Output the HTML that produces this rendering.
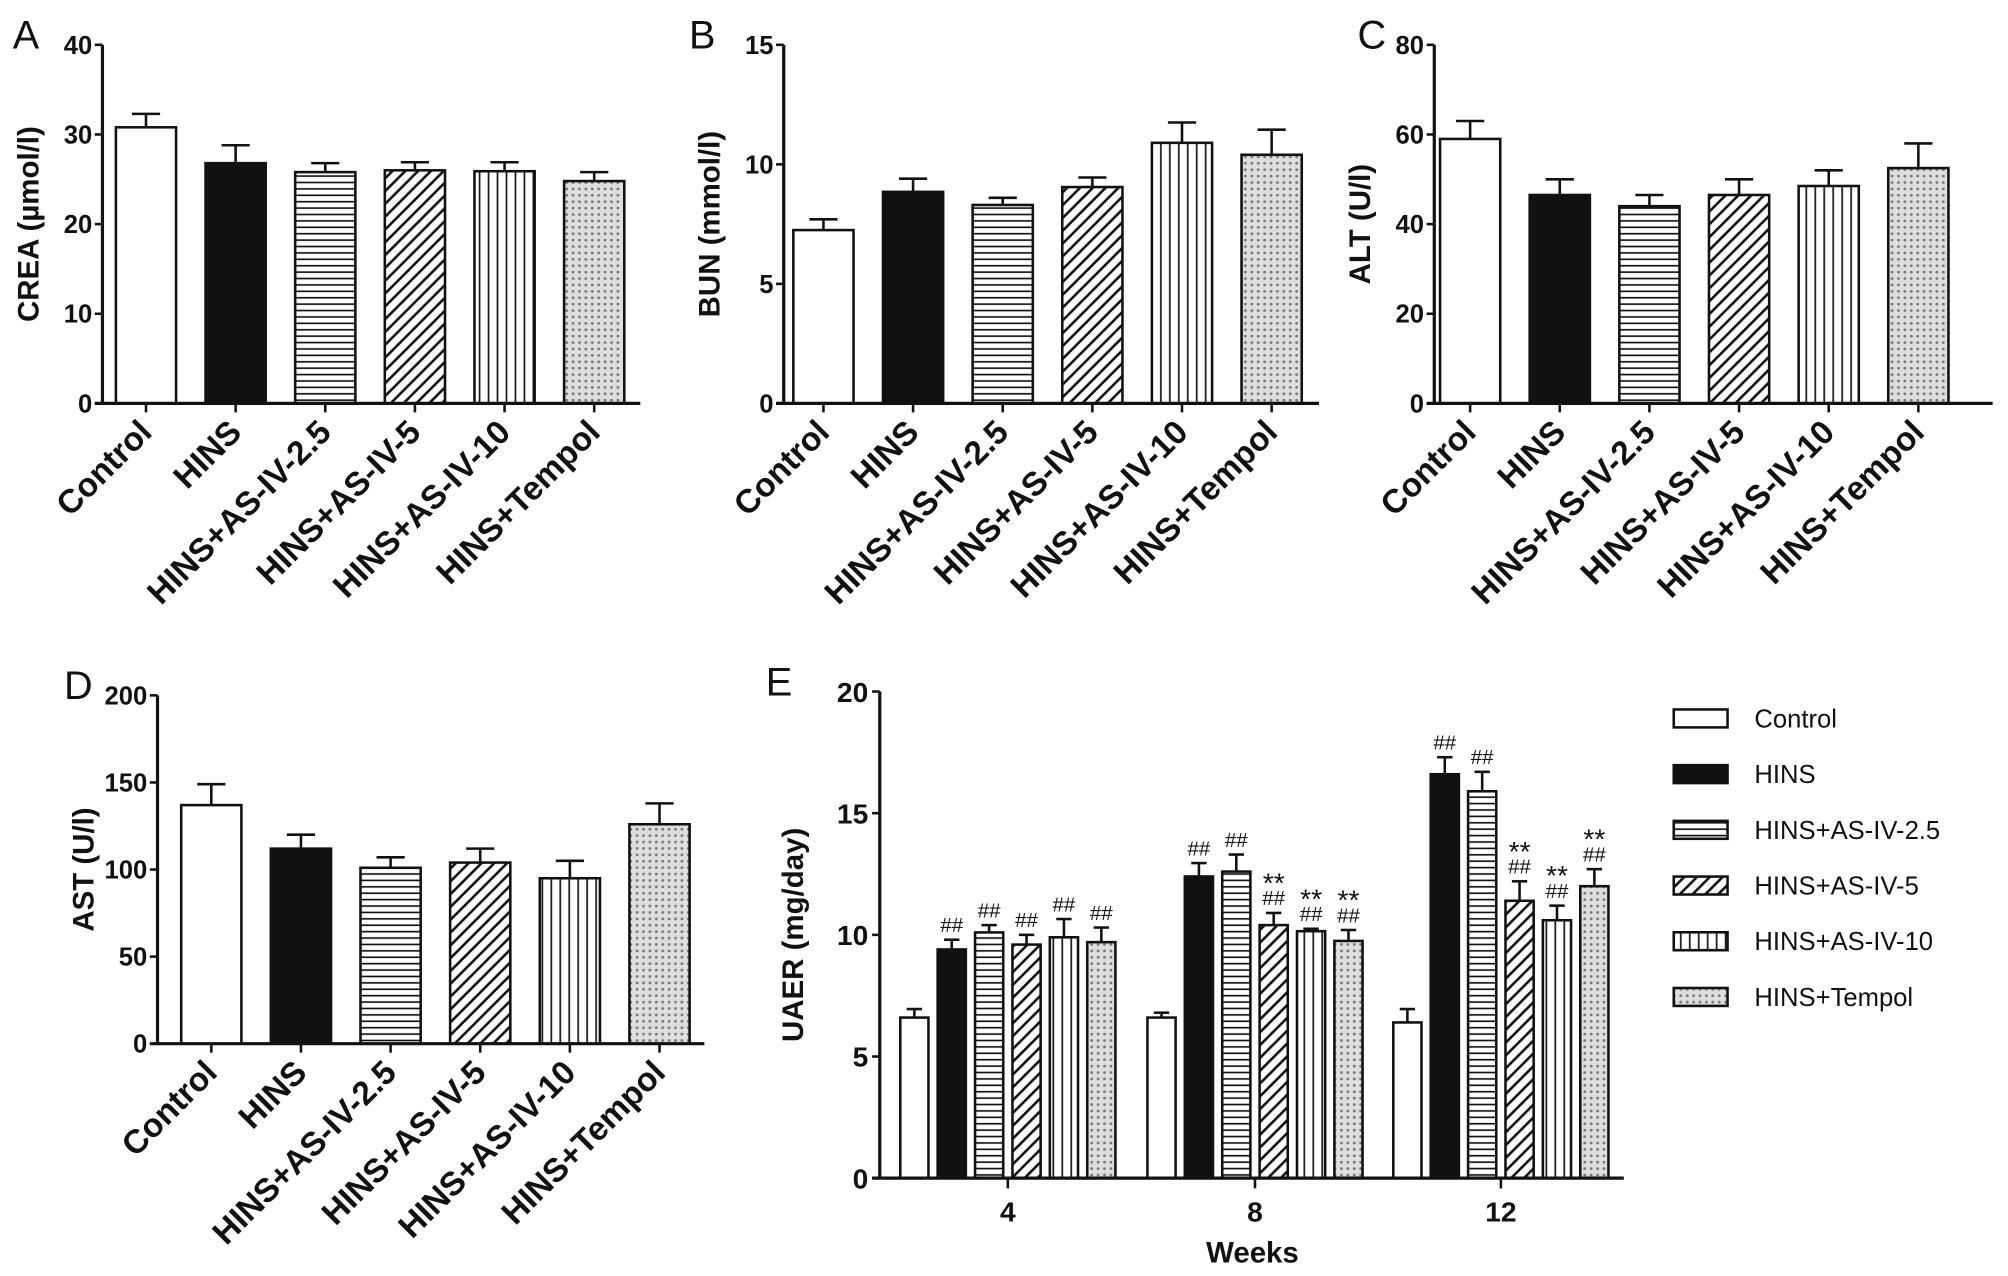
<!DOCTYPE html>
<html><head><meta charset="utf-8"><style>
html,body{margin:0;padding:0;background:#fff}
svg{display:block}
text{font-family:"Liberation Sans",Arial,sans-serif;fill:#111}
</style></head><body>
<svg id="fig" width="2008" height="1276" viewBox="0 0 1568 996.4" preserveAspectRatio="none" xmlns="http://www.w3.org/2000/svg">
<defs>
<pattern id="p-h" patternUnits="userSpaceOnUse" width="8" height="5"><rect width="8" height="5" fill="#fff"/><line x1="0" y1="2.5" x2="8" y2="2.5" stroke="#111" stroke-width="1.3"/></pattern>
<pattern id="p-d" patternUnits="userSpaceOnUse" width="10" height="10"><rect width="10" height="10" fill="#fff"/><path d="M-2,12 L12,-2 M-2,2 L2,-2 M8,12 L12,8" stroke="#111" stroke-width="2"/></pattern>
<pattern id="p-v" patternUnits="userSpaceOnUse" width="7" height="8"><rect width="7" height="8" fill="#fff"/><line x1="3.5" y1="0" x2="3.5" y2="8" stroke="#111" stroke-width="1.3"/></pattern>
<pattern id="p-t" patternUnits="userSpaceOnUse" width="5" height="5"><rect width="5" height="5" fill="#dedede"/><circle cx="2.5" cy="2.5" r="1.1" fill="#777"/></pattern>
</defs>
</svg>
<script>
const groups = ["Control","HINS","HINS+AS-IV-2.5","HINS+AS-IV-5","HINS+AS-IV-10","HINS+Tempol"];
const fills = ["#fff","#111","url(#p-h)","url(#p-d)","url(#p-v)","url(#p-t)"];
const creaVals = [30.8,26.8,25.8,26.0,25.9,24.8];
const creaErr = [1.5,2.0,1.0,0.9,1.0,1.0];
const creaTicks = [0,10,20,30,40];
const bunVals = [7.25,8.85,8.3,9.05,10.9,10.4];
const bunErr = [0.45,0.55,0.3,0.4,0.85,1.05];
const bunTicks = [0,5,10,15];
const altVals = [59,46.5,44,46.5,48.5,52.5];
const altErr = [4,3.5,2.5,3.5,3.5,5.5];
const altTicks = [0,20,40,60,80];
const astVals = [137,112,101,104,95,126];
const astErr = [12,8,6,8,10,12];
const astTicks = [0,50,100,150,200];
const weeks = ["4","8","12"];
const uaerVals = [[6.6,9.4,10.1,9.6,9.9,9.7],[6.6,12.4,12.6,10.4,10.15,9.75],[6.4,16.6,15.9,11.4,10.6,12.0]];
const uaerErr = [[0.35,0.4,0.3,0.4,0.75,0.6],[0.2,0.55,0.7,0.5,0.1,0.45],[0.55,0.7,0.8,0.8,0.6,0.7]];
const uaerHash = [[0,1,1,1,1,1],[0,1,1,1,1,1],[0,1,1,1,1,1]];
const uaerStar = [[0,0,0,0,0,0],[0,0,0,1,1,1],[0,0,0,1,1,1]];
const uaerTicks = [0,5,10,15,20];

const svg = document.getElementById('fig');
const NS = 'http://www.w3.org/2000/svg';
function mk(tag, attrs, parent, txt){const e=document.createElementNS(NS,tag);for(const k in attrs)e.setAttribute(k,attrs[k]);if(txt!==undefined)e.textContent=txt;(parent||svg).appendChild(e);return e;}

function panel(cfg){
  const g = mk('g',{});
  
  
  const max = cfg.ticks[cfg.ticks.length-1];
  const y = v => cfg.y0 - (v/max)*(cfg.y0-cfg.yTop);
  const lt = mk('text',{x:cfg.lx,y:cfg.yTop+3,'font-size':31},g,cfg.letter);
  
  
  cfg.ticks.forEach(t=>{
    mk('line',{x1:cfg.ax-6,x2:cfg.ax,y1:y(t),y2:y(t),stroke:'#111','stroke-width':2},g);
    const tl = mk('text',{x:cfg.ax-8,y:y(t)+7,'font-size':20,'font-weight':'bold','text-anchor':'end'},g,t);
    
    
  });
  const tcx = cfg.ax-50, tcy=(cfg.y0+cfg.yTop)/2;
  const yt = mk('text',{x:tcx,y:tcy,'font-size':23,'font-weight':'bold','text-anchor':'middle',transform:`rotate(-90 ${tcx} ${tcy})`},g,cfg.title);
  
  
  cfg.vals.forEach((v,i)=>{
    const cx = cfg.c0 + i*cfg.step, w=47;
    const top=y(v+cfg.err[i]);
    mk('line',{x1:cx,x2:cx,y1:y(v),y2:top,stroke:'#111','stroke-width':2},g);
    mk('line',{x1:cx-11,x2:cx+11,y1:top,y2:top,stroke:'#111','stroke-width':2},g);
    const b = mk('rect',{x:cx-w/2,y:y(v),width:w,height:cfg.y0-y(v),fill:fills[i],stroke:'#111','stroke-width':2},g);
    
    
    mk('line',{x1:cx,x2:cx,y1:cfg.y0,y2:cfg.y0+7,stroke:'#111','stroke-width':2},g);
    const lx=cx+6, ly=cfg.y0+24;
    const xl = mk('text',{x:lx,y:ly,'font-size':26,'font-weight':'bold','text-anchor':'end',transform:`rotate(-45 ${lx} ${ly})`},g,groups[i]);
    
    
  });
  mk('line',{x1:cfg.ax,x2:cfg.ax,y1:cfg.yTop,y2:cfg.y0,stroke:'#111','stroke-width':2.5},g);
  mk('line',{x1:cfg.ax-6,x2:cfg.xEnd,y1:cfg.y0,y2:cfg.y0,stroke:'#111','stroke-width':2.5},g);
}
panel({letter:'A',lx:10,ax:80,yTop:35,y0:315,xEnd:500,c0:114,step:70,ticks:creaTicks,vals:creaVals,err:creaErr,title:'CREA (µmol/l)'});
panel({letter:'B',lx:538,ax:612,yTop:35,y0:315,xEnd:1030,c0:643,step:70,ticks:bunTicks,vals:bunVals,err:bunErr,title:'BUN (mmol/l)'});
panel({letter:'C',lx:1060,ax:1120,yTop:35,y0:315,xEnd:1556,c0:1148,step:70,ticks:altTicks,vals:altVals,err:altErr,title:'ALT (U/l)'});
panel({letter:'D',lx:50,ax:123,yTop:543,y0:815,xEnd:550,c0:165,step:70,ticks:astTicks,vals:astVals,err:astErr,title:'AST (U/l)'});

// Panel E
(function(){
  const g = mk('g',{});
  
  
  const ax=687, yTop=540, y0=920, xEnd=1268, max=20;
  const y = v => y0 - v/max*(y0-yTop);
  const gc = [787,980,1172], step=29.2, w=22;
  const lt = mk('text',{x:598,y:543,'font-size':31},g,'E');
  
  
  uaerTicks.forEach(t=>{
    mk('line',{x1:ax-6,x2:ax,y1:y(t),y2:y(t),stroke:'#111','stroke-width':2},g);
    const tl = mk('text',{x:ax-9,y:y(t)+8,'font-size':22,'font-weight':'bold','text-anchor':'end'},g,t);
    
    
  });
  const yt = mk('text',{x:627,y:730,'font-size':23,'font-weight':'bold','text-anchor':'middle',transform:'rotate(-90 627 730)'},g,'UAER (mg/day)');
  
  
  weeks.forEach((wk,gi)=>{
    uaerVals[gi].forEach((v,i)=>{
      const cx = gc[gi] + (i-2.5)*step;
      const top=y(v+uaerErr[gi][i]);
      mk('line',{x1:cx,x2:cx,y1:y(v),y2:top,stroke:'#111','stroke-width':2},g);
      mk('line',{x1:cx-6,x2:cx+6,y1:top,y2:top,stroke:'#111','stroke-width':2},g);
      const b = mk('rect',{x:cx-w/2,y:y(v),width:w,height:y0-y(v),fill:fills[i],stroke:'#111','stroke-width':2},g);
      
      
      let ty = top-6;
      if(uaerHash[gi][i]){
        const h = mk('text',{x:cx,y:ty,'font-size':16,'text-anchor':'middle'},g,'##');
        
        
        ty -= 17;
      }
      if(uaerStar[gi][i]){
        const s = mk('text',{x:cx,y:ty+7,'font-size':22,'text-anchor':'middle'},g,'**');
        
        
      }
    });
    mk('line',{x1:gc[gi],x2:gc[gi],y1:y0,y2:y0+8,stroke:'#111','stroke-width':2},g);
    const xl = mk('text',{x:gc[gi],y:y0+34,'font-size':22,'font-weight':'bold','text-anchor':'middle'},g,wk);
    
    
  });
  mk('line',{x1:ax,x2:ax,y1:yTop,y2:y0,stroke:'#111','stroke-width':2.5},g);
  mk('line',{x1:ax-6,x2:xEnd,y1:y0,y2:y0,stroke:'#111','stroke-width':2.5},g);
  const xt = mk('text',{x:978,y:986,'font-size':23,'font-weight':'bold','text-anchor':'middle'},g,'Weeks');
  
  
  groups.forEach((n,i)=>{
    const ly = 561 + i*43.5;
    const le = mk('g',{},g);
    
    
    mk('rect',{x:1307,y:ly-7,width:42,height:14,fill:fills[i],stroke:'#111','stroke-width':2},le);
    mk('text',{x:1370,y:ly+7,'font-size':20},le,n);
  });
})();
</script>
</body></html>
